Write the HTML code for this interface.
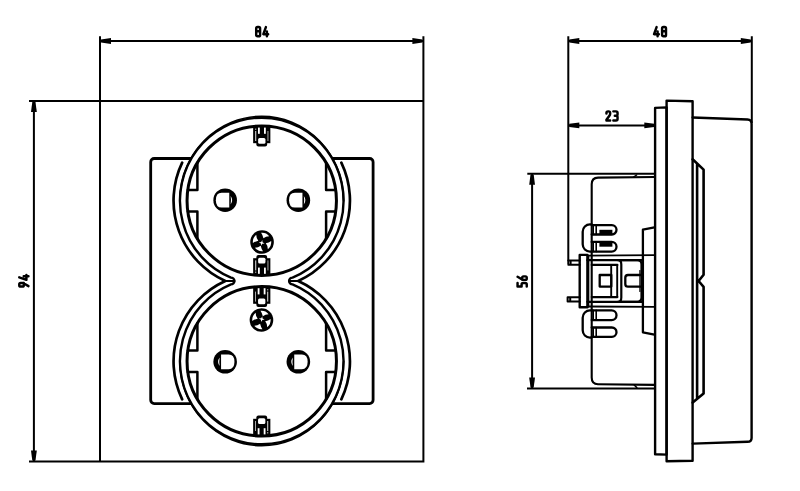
<!DOCTYPE html>
<html><head><meta charset="utf-8"><style>
html,body{margin:0;padding:0;background:#fff;}
svg{display:block;}
.d{fill:none;stroke:#000;stroke-width:2;}
.k{fill:none;stroke:#000;stroke-linejoin:round;stroke-linecap:round;}
.f{fill:#000;}
.t path{fill:none;stroke:#000;stroke-width:2.45;stroke-linecap:round;stroke-linejoin:round;}
</style></head><body>
<svg width="800" height="491" viewBox="0 0 800 491">
<rect width="800" height="491" fill="#fff"/>
<g stroke-width="2.8"><path class="d" d="M100,36.3 V461.5 M29,101 H423.4 M29,461.5 H423.4 V36.3"/><path class="d" d="M100,41 H423.4"/><path d="M101.00,39.40 L111.00,38.10 L111.00,43.90 L101.00,42.60 Z" class="f"/><path d="M422.40,42.60 L412.40,43.90 L412.40,38.10 L422.40,39.40 Z" class="f"/><g class="t" transform="translate(255.0,25.9) scale(1,1.0)"><path transform="translate(0.00,0)" d="M1.2,2.5 Q1.2,1.15 2.55,1.15 H3.75 Q5.1,1.15 5.1,2.5 V9 Q5.1,10.35 3.75,10.35 H2.55 Q1.2,10.35 1.2,9 Z M1.2,5.3 H5.1"/><path transform="translate(7.20,0)" d="M3.7,1.15 L1.15,8.3 H5.95 M4.7,5.6 V10.35"/></g><path class="d" d="M33.9,101 V461.5"/><path d="M35.50,102.00 L36.80,112.00 L31.00,112.00 L32.30,102.00 Z" class="f"/><path d="M32.30,460.50 L31.00,450.50 L36.80,450.50 L35.50,460.50 Z" class="f"/><g class="t" transform="translate(18.1,287.7) rotate(-90) scale(1,1.0)"><path transform="translate(0.00,0)" d="M4.65,5.7 H2.5 Q1.15,5.7 1.15,4.4 V2.5 Q1.15,1.15 2.5,1.15 H3.3 Q4.65,1.15 4.65,2.5 V5.1 L1.6,10.35"/><path transform="translate(6.70,0)" d="M3.7,1.15 L1.15,8.3 H5.95 M4.7,5.6 V10.35"/></g><rect class="k" x="150.7" y="158.5" width="222.4" height="245.1" rx="3.5"/><path class="k" style="fill:#fff" stroke-width="2.4" d="M231.00,277.61 A81.8,83.0 0 1 1 292.50,277.61 A3.39,3.39 0 0 0 292.50,284.39 A81.8,83.0 0 1 1 231.00,284.39 A3.39,3.39 0 0 0 231.00,277.61 Z"/><path class="k" stroke-width="1.7" d="M179.95,200.70 A81.8,84.4 0 0 1 343.55,200.70 M179.95,361.30 A81.8,84.4 0 0 0 343.55,361.30"/><path class="k" stroke-width="2.7" d="M182.16,162.7 A88.2,88.2 0 0 0 225.27,281.0 A88.2,88.2 0 0 0 182.16,399.3 M341.34,162.7 A88.2,88.2 0 0 1 298.23,281.0 A88.2,88.2 0 0 1 341.34,399.3"/><path class="k" stroke-width="2.2" d="M225.27,281.0 H234.39 M298.23,281.0 H289.11"/><g><circle class="k" cx="261.75" cy="200.7" r="74.7" stroke-width="3.0"/><path class="k" stroke-width="2.5" d="M197.40,162.76 V190.00 H187.82 M187.82,211.40 H197.40 V238.64 M326.10,162.76 V190.00 H335.68 M335.68,211.40 H326.10 V238.64"/><circle cx="225.15" cy="200.20" r="11.8" fill="#000"/><path fill="#fff" d="M229.25,192.80 L221.65,192.80 Q215.85,192.80 215.85,200.20 Q215.85,207.60 221.65,207.60 L229.25,207.60 Z"/><path fill="#fff" d="M230.65,196.00 Q233.75,200.20 230.65,204.40 Q231.35,200.20 230.65,196.00 Z"/><circle cx="298.35" cy="200.20" r="11.8" fill="#000"/><path fill="#fff" d="M302.45,192.80 L294.85,192.80 Q289.05,192.80 289.05,200.20 Q289.05,207.60 294.85,207.60 L302.45,207.60 Z"/><path fill="#fff" d="M303.85,196.00 Q306.95,200.20 303.85,204.40 Q304.55,200.20 303.85,196.00 Z"/><circle cx="262.05" cy="242.0" r="11.8" fill="#000"/><path fill="#fff" d="M261.09,232.85 A9.2,9.2 0 0 1 269.20,236.21 Q265.96,236.20 263.42,238.24 Q262.76,235.24 261.09,232.85 Z"/><path fill="#fff" d="M271.20,241.04 A9.2,9.2 0 0 1 267.84,249.15 Q267.85,245.91 265.81,243.37 Q268.81,242.71 271.20,241.04 Z"/><path fill="#fff" d="M263.01,251.15 A9.2,9.2 0 0 1 254.90,247.79 Q258.14,247.80 260.68,245.76 Q261.34,248.76 263.01,251.15 Z"/><path fill="#fff" d="M252.90,242.96 A9.2,9.2 0 0 1 256.26,234.85 Q256.25,238.09 258.29,240.63 Q255.29,241.29 252.90,242.96 Z"/><polygon fill="#fff" points="264.91,242.50 262.59,242.78 261.55,244.86 261.27,242.54 259.19,241.50 261.51,241.22 262.55,239.14 262.83,241.46" transform="translate(-0.3,0.9)"/><g transform="translate(261.75,125.99999999999999)"><g><rect x="-8.6" y="0" width="17.2" height="17.2" fill="#000"/><rect x="-5.4" y="10" width="10.8" height="10.4" rx="2" fill="#000"/><rect x="-6.45" y="5" width="0.9" height="10" fill="#fff"/><rect x="-6.45" y="2.6" width="0.9" height="1.2" fill="#fff"/><rect x="-3.75" y="1.6" width="1.8" height="6.2" fill="#fff"/><rect x="2.25" y="1.6" width="1.8" height="6.2" fill="#fff"/><rect x="5.75" y="5" width="0.9" height="10" fill="#bbb"/><rect x="-3.6" y="11.9" width="7.3" height="5.8" rx="1.5" fill="#fff"/></g></g><g transform="translate(261.75,275.4) scale(1,-1)"><g><rect x="-8.6" y="0" width="17.2" height="17.2" fill="#000"/><rect x="-5.4" y="10" width="10.8" height="10.4" rx="2" fill="#000"/><rect x="-6.45" y="5" width="0.9" height="10" fill="#fff"/><rect x="-6.45" y="2.6" width="0.9" height="1.2" fill="#fff"/><rect x="-3.75" y="1.6" width="1.8" height="6.2" fill="#fff"/><rect x="2.25" y="1.6" width="1.8" height="6.2" fill="#fff"/><rect x="5.75" y="5" width="0.9" height="10" fill="#bbb"/><rect x="-3.6" y="11.9" width="7.3" height="5.8" rx="1.5" fill="#fff"/></g></g></g><g transform="rotate(180 261.75 281.0)"><circle class="k" cx="261.75" cy="200.7" r="74.7" stroke-width="3.0"/><path class="k" stroke-width="2.5" d="M197.40,162.76 V190.00 H187.82 M187.82,211.40 H197.40 V238.64 M326.10,162.76 V190.00 H335.68 M335.68,211.40 H326.10 V238.64"/><circle cx="225.15" cy="200.20" r="11.8" fill="#000"/><path fill="#fff" d="M229.25,192.80 L221.65,192.80 Q215.85,192.80 215.85,200.20 Q215.85,207.60 221.65,207.60 L229.25,207.60 Z"/><path fill="#fff" d="M230.65,196.00 Q233.75,200.20 230.65,204.40 Q231.35,200.20 230.65,196.00 Z"/><circle cx="298.35" cy="200.20" r="11.8" fill="#000"/><path fill="#fff" d="M302.45,192.80 L294.85,192.80 Q289.05,192.80 289.05,200.20 Q289.05,207.60 294.85,207.60 L302.45,207.60 Z"/><path fill="#fff" d="M303.85,196.00 Q306.95,200.20 303.85,204.40 Q304.55,200.20 303.85,196.00 Z"/><circle cx="262.05" cy="242.0" r="11.8" fill="#000"/><path fill="#fff" d="M261.09,232.85 A9.2,9.2 0 0 1 269.20,236.21 Q265.96,236.20 263.42,238.24 Q262.76,235.24 261.09,232.85 Z"/><path fill="#fff" d="M271.20,241.04 A9.2,9.2 0 0 1 267.84,249.15 Q267.85,245.91 265.81,243.37 Q268.81,242.71 271.20,241.04 Z"/><path fill="#fff" d="M263.01,251.15 A9.2,9.2 0 0 1 254.90,247.79 Q258.14,247.80 260.68,245.76 Q261.34,248.76 263.01,251.15 Z"/><path fill="#fff" d="M252.90,242.96 A9.2,9.2 0 0 1 256.26,234.85 Q256.25,238.09 258.29,240.63 Q255.29,241.29 252.90,242.96 Z"/><polygon fill="#fff" points="264.91,242.50 262.59,242.78 261.55,244.86 261.27,242.54 259.19,241.50 261.51,241.22 262.55,239.14 262.83,241.46" transform="translate(-0.3,0.9)"/><g transform="translate(261.75,125.99999999999999)"><g><rect x="-8.6" y="0" width="17.2" height="17.2" fill="#000"/><rect x="-5.4" y="10" width="10.8" height="10.4" rx="2" fill="#000"/><rect x="-6.45" y="5" width="0.9" height="10" fill="#fff"/><rect x="-6.45" y="2.6" width="0.9" height="1.2" fill="#fff"/><rect x="-3.75" y="1.6" width="1.8" height="6.2" fill="#fff"/><rect x="2.25" y="1.6" width="1.8" height="6.2" fill="#fff"/><rect x="5.75" y="5" width="0.9" height="10" fill="#bbb"/><rect x="-3.6" y="11.9" width="7.3" height="5.8" rx="1.5" fill="#fff"/></g></g><g transform="translate(261.75,275.4) scale(1,-1)"><g><rect x="-8.6" y="0" width="17.2" height="17.2" fill="#000"/><rect x="-5.4" y="10" width="10.8" height="10.4" rx="2" fill="#000"/><rect x="-6.45" y="5" width="0.9" height="10" fill="#fff"/><rect x="-6.45" y="2.6" width="0.9" height="1.2" fill="#fff"/><rect x="-3.75" y="1.6" width="1.8" height="6.2" fill="#fff"/><rect x="2.25" y="1.6" width="1.8" height="6.2" fill="#fff"/><rect x="5.75" y="5" width="0.9" height="10" fill="#bbb"/><rect x="-3.6" y="11.9" width="7.3" height="5.8" rx="1.5" fill="#fff"/></g></g></g><path class="d" d="M568.3,36.3 V264 M751.8,36.3 V123 M527.3,173.8 H655 M527,388.6 H655"/><path class="d" d="M568.3,41 H751.8 M568.3,125.4 H655.3 M532.1,173.8 V388.6"/><path d="M569.30,39.40 L579.30,38.10 L579.30,43.90 L569.30,42.60 Z" class="f"/><path d="M750.80,42.60 L740.80,43.90 L740.80,38.10 L750.80,39.40 Z" class="f"/><path d="M569.30,123.80 L579.30,122.50 L579.30,128.30 L569.30,127.00 Z" class="f"/><path d="M654.30,127.00 L644.30,128.30 L644.30,122.50 L654.30,123.80 Z" class="f"/><path d="M533.70,174.80 L535.00,184.80 L529.20,184.80 L530.50,174.80 Z" class="f"/><path d="M530.50,387.60 L529.20,377.60 L535.00,377.60 L533.70,387.60 Z" class="f"/><g class="t" transform="translate(652.9,25.9) scale(1,1.0)"><path transform="translate(0.00,0)" d="M3.7,1.15 L1.15,8.3 H5.95 M4.7,5.6 V10.35"/><path transform="translate(8.00,0)" d="M1.2,2.5 Q1.2,1.15 2.55,1.15 H3.75 Q5.1,1.15 5.1,2.5 V9 Q5.1,10.35 3.75,10.35 H2.55 Q1.2,10.35 1.2,9 Z M1.2,5.3 H5.1"/></g><g class="t" transform="translate(605.3,110.2) scale(1,1.0)"><path transform="translate(0.00,0)" d="M1.15,3.4 V2.6 Q1.15,1.15 2.8,1.15 H3.3 Q4.85,1.15 4.85,2.7 V3.6 Q4.85,4.6 4.1,5.5 L1.15,9.6 V10.35 H4.85"/><path transform="translate(6.90,0)" d="M1.15,1.15 H3.8 Q5.35,1.15 5.35,2.7 V4 Q5.35,5.5 3.8,5.5 H2.6 M3.8,5.5 Q5.35,5.5 5.35,7 V8.8 Q5.35,10.35 3.8,10.35 H1.15"/></g><g class="t" transform="translate(516.4,287.7) rotate(-90) scale(1,1.0)"><path transform="translate(0.00,0)" d="M4.65,1.15 H1.3 V5.2 H3.2 Q4.65,5.2 4.65,6.8 V8.8 Q4.65,10.35 3.1,10.35 H1.15"/><path transform="translate(6.70,0)" d="M1.15,5.8 H3.3 Q4.65,5.8 4.65,7.1 V9 Q4.65,10.35 3.3,10.35 H2.5 Q1.15,10.35 1.15,9 V6.4 L4.2,1.15"/></g><path class="k" stroke-width="2.4" d="M655.1,107.9 L666.6,107.4 V454.6 L655.1,454.2 Z"/><path class="k" stroke-width="2.4" d="M666.6,100.6 L692.6,101.2 V460.8 L666.6,461.3 Z"/><path class="k" stroke-width="2.4" d="M692.6,117.5 L747.5,119.5 Q751.6,119.7 751.6,123.8 V438 Q751.6,441.7 747.5,441.8 L692.7,443.6"/><path class="k" stroke-width="2.6" d="M692.6,159.3 L703.6,169.6 V274.8 L698.6,281 L703.6,286.8 V393.6 L692.7,402.6 M697.1,164 V397.6"/><path class="k" stroke-width="2.1" d="M655,177 L598,177.6 Q591.7,177.8 591.7,184.3 V377.5 Q591.7,384.2 598,384.3 L655,384.9"/><path class="k" stroke-width="1.5" d="M633.6,177.2 L636.6,175 M634,384.8 L636.8,387.6"/><path class="k" stroke-width="2.3" d="M654.4,227.4 L642.9,229.7 V332.3 L654.4,334.6"/><path class="k" stroke-width="1.8" d="M587.4,255.6 L654.4,255.2 M587.4,306.5 L654.4,306.8"/><path class="k" stroke-width="2.3" d="M587.4,260.2 L642.9,260.1 M587.4,301.8 L642.9,301.9"/><path class="k" stroke-width="1.9" d="M588.4,255.6 V306.5"/><rect class="k" stroke-width="2.4" x="579.7" y="254.9" width="7.7" height="52.3"/><path class="k" stroke-width="2" d="M568.3,260.6 H579.7 M568.3,264.8 H579.7 M570.6,260.6 V264.8 M567.6,297.3 H579.7 M567.6,301.5 H579.7 M567.6,297.3 V301.5 M570.2,297.3 V301.5"/><path class="k" stroke-width="2.1" d="M591.7,264.9 H617.4 M591.7,297.1 H617.4"/><path class="k" stroke-width="1.9" d="M611.2,264.9 V297.1 M617.2,264.9 V297.1"/><rect class="k" stroke-width="2.3" x="599.7" y="275" width="11.6" height="11.6"/><path class="k" stroke-width="2.2" d="M618,260.2 H637.3 Q641.5,260.2 641.5,264.4 V297.6 Q641.5,301.8 637.3,301.8 H618 Q621.3,301.8 621.3,297.5 V264.5 Q621.3,260.2 618,260.2 Z"/><path class="k" stroke-width="2.3" d="M641.5,275 H628 Q625.3,275 625.3,277.7 V283.9 Q625.3,286.6 628,286.6 H641.5"/><path class="k" stroke-width="1.2" d="M639.9,270.5 V291.5"/><path class="k" stroke-width="2.3" d="M591.7,224.40 H590 A7.3,7.3 0 0 0 582.7,231.70 V244.30 A7.3,7.3 0 0 0 590,251.60 H591.7"/><path class="k" stroke-width="2.3" d="M591.7,225.20 H611.85 A4.65,4.65 0 0 1 611.85,234.50 H591.7"/><path class="k" stroke-width="1.6" d="M593.2,225.20 V234.50 M596.2,225.20 V234.50"/><path class="k" stroke-width="2.3" d="M591.7,241.90 H611.65 A4.85,4.85 0 0 1 611.65,251.60 H591.7"/><path class="k" stroke-width="1.6" d="M593.2,241.90 V251.60 M596.2,241.90 V251.60"/><rect x="599.4" y="229.80" width="13" height="4.4" fill="#000"/><rect x="599.4" y="242.30" width="13" height="4.4" fill="#000"/><path class="k" stroke-width="2.3" d="M591.7,337.60 H590 A7.3,7.3 0 0 1 582.7,330.30 V317.70 A7.3,7.3 0 0 1 590,310.40 H591.7"/><path class="k" stroke-width="2.3" d="M591.7,336.80 H611.85 A4.65,4.65 0 0 0 611.85,327.50 H591.7"/><path class="k" stroke-width="1.6" d="M593.2,336.80 V327.50 M596.2,336.80 V327.50"/><path class="k" stroke-width="2.3" d="M591.7,320.10 H611.65 A4.85,4.85 0 0 0 611.65,310.40 H591.7"/><path class="k" stroke-width="1.6" d="M593.2,320.10 V310.40 M596.2,320.10 V310.40"/></g>
</svg>
</body></html>
